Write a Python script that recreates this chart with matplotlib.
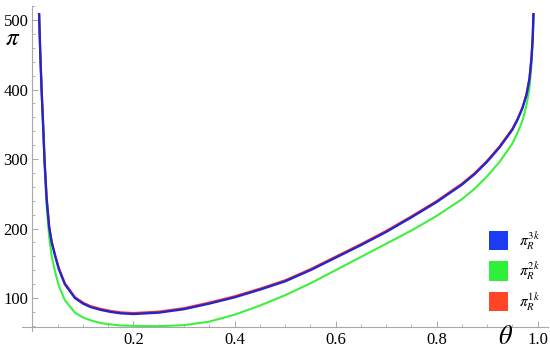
import matplotlib
matplotlib.use("Agg")
import matplotlib.pyplot as plt
from matplotlib.patches import Patch
from matplotlib.ticker import MultipleLocator

plt.rcParams['font.family'] = ['Liberation Serif', 'DejaVu Serif']
plt.rcParams['mathtext.fontset'] = 'stix'

theta = [0.013, 0.0155, 0.018, 0.021, 0.024, 0.028, 0.033, 0.038, 0.045, 0.052,
         0.064, 0.084, 0.1, 0.115, 0.135, 0.155, 0.175, 0.2, 0.25, 0.3,
         0.35, 0.4, 0.45, 0.5, 0.55, 0.6, 0.65, 0.7, 0.75, 0.8,
         0.85, 0.875, 0.9, 0.925, 0.95, 0.96, 0.97, 0.978, 0.984, 0.988,
         0.9905, 0.992]

pi_3k = [510, 450, 400, 350, 296, 243, 202, 180, 160, 142,
         120, 100, 92, 87, 83, 80, 78, 77, 79, 84,
         92, 101, 112, 124, 140, 158, 176, 195, 216, 238,
         263, 278, 296, 317, 342, 356, 373, 392, 415, 445,
         475, 510]

pi_2k = [510, 450, 398, 346, 292, 232, 188, 160, 137, 118,
         97, 79, 72, 68, 64, 62, 60.5, 60, 59.5, 61,
         66, 76, 89, 104, 121, 140, 159, 178, 197, 218,
         242, 257, 275, 296, 322, 337, 355, 377, 402, 435,
         470, 510]

pi_1k = [510, 451, 401, 351, 297, 244.5, 203.5, 181.5, 161.5, 143.5,
         121.5, 101.5, 93.5, 88.5, 84.5, 81.5, 79.5, 78.5, 80.5, 85.5,
         93.5, 102.5, 113.5, 125.5, 141.5, 159.5, 177.5, 196.5, 217.5, 239.5,
         264.5, 279.5, 297.5, 318.5, 343.5, 357, 374, 393, 416, 446,
         476, 510]

x_ticks = [0.2, 0.4, 0.6, 0.8, 1.0]
x_tick_labels = ['0.2', '0.4', '0.6', '0.8', '1.0']
y_ticks = [100, 200, 300, 400, 500]
y_tick_labels = ['100', '200', '300', '400', '500']
legend_labels = [r'$\pi_R^{3k}$', r'$\pi_R^{2k}$', r'$\pi_R^{1k}$']

c_blue = '#2424d0'
c_green = '#3ef03e'
c_red = '#ff3a26'

fig = plt.figure(figsize=(5.5, 3.55), dpi=100)
ax = fig.add_axes([0.0407, 0.0665, 0.955, 0.9163])
ax.set_xlim(-0.02, 1.02)
ax.set_ylim(52, 520)

ax.plot(theta, pi_2k, color=c_green, lw=1.5, solid_capstyle='butt')
ax.plot(theta, pi_1k, color=c_red, lw=1.5, solid_capstyle='butt')
ax.plot(theta, pi_3k, color=c_blue, lw=1.7, solid_capstyle='butt')

for s in ['top', 'right']:
    ax.spines[s].set_visible(False)
ax.spines['left'].set_position(('data', 0))
ax.spines['bottom'].set_position(('data', 59))
for s in ['left', 'bottom']:
    ax.spines[s].set_color('#a8a8a8')
    ax.spines[s].set_linewidth(0.8)

ax.set_xticks(x_ticks)
ax.set_xticklabels(x_tick_labels)
ax.set_yticks(y_ticks)
ax.set_yticklabels(y_tick_labels)
ax.xaxis.set_minor_locator(MultipleLocator(0.05))
ax.yaxis.set_minor_locator(MultipleLocator(20))
ax.tick_params(axis='both', which='major', direction='in', length=4.5,
               width=0.7, color='#a8a8a8', labelsize=12, pad=4)
ax.tick_params(axis='both', which='minor', direction='in', length=2.5,
               width=0.6, color='#a8a8a8')
ax.tick_params(axis='y', pad=3)

ax.text(-0.04, 472, r'$\pi$', fontsize=18, ha='center', va='center')
ax.text(0.936, 43, r'$\theta$', fontsize=19, ha='center', va='center')

handles = [Patch(facecolor=c, edgecolor='none') for c in ['#1c3cf4', '#2ef03a', '#ff4526']]
leg = ax.legend(handles, legend_labels, loc='lower right',
                bbox_to_anchor=(1.012, 0.015), frameon=False,
                handlelength=1.25, handleheight=1.55, handletextpad=0.75,
                labelspacing=0.55, fontsize=11)

fig.savefig('out.png', dpi=100)
